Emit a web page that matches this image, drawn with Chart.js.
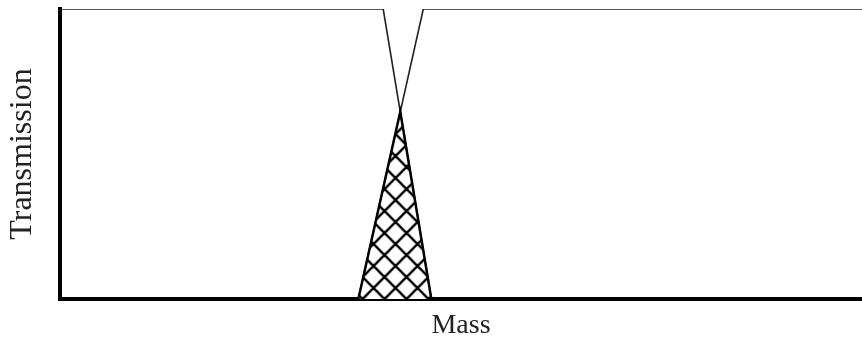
<!DOCTYPE html>
<html>
<head>
<meta charset="utf-8">
<script src="https://cdn.jsdelivr.net/npm/chart.js"></script>
<style>
  html, body { margin: 0; padding: 0; background: #fff; }
  #wrap { width: 862px; height: 341px; }
</style>
</head>
<body>
<div id="wrap"><canvas id="chartFilter"></canvas></div>
<script>
// Two overlapping transmission windows; overlap region is cross-hatched
const massFalling = [0, 40.3, 46.3];
const transFalling = [1, 1, 0];
const massRising = [37.2, 45.3, 100];
const transRising = [0, 1, 1];

// where the falling edge crosses the rising edge
function crossing() {
  const ax = massFalling[1], ay = transFalling[1], bx = massFalling[2], by = transFalling[2];
  const cx = massRising[0], cy = transRising[0], dx = massRising[1], dy = transRising[1];
  const s1 = (by - ay) / (bx - ax), s2 = (dy - cy) / (dx - cx);
  const x = (cy - ay + s1 * ax - s2 * cx) / (s1 - s2);
  return { x: x, y: ay + s1 * (x - ax) };
}

function toPoints(xs, ys) {
  return xs.map((x, i) => ({ x: x, y: ys[i] }));
}

function crossHatch(size) {
  const c = document.createElement('canvas');
  c.width = size; c.height = size;
  const g = c.getContext('2d');
  g.fillStyle = '#fff';
  g.fillRect(0, 0, size, size);
  g.strokeStyle = '#000';
  g.lineWidth = 2.4;
  g.beginPath();
  g.moveTo(0, 0); g.lineTo(size, size);
  g.moveTo(size, 0); g.lineTo(0, size);
  g.moveTo(-size / 2, size / 2); g.lineTo(size / 2, -size / 2);
  g.moveTo(size / 2, size * 1.5); g.lineTo(size * 1.5, size / 2);
  g.moveTo(-size / 2, size / 2); g.lineTo(size / 2, size * 1.5);
  g.moveTo(size / 2, -size / 2); g.lineTo(size * 1.5, size / 2);
  g.stroke();
  const p = g.createPattern(c, 'repeat');
  p.setTransform(new DOMMatrix().translate(-0.5, 2));
  return p;
}

const cross = crossing();
const overlap = [
  { x: massRising[0], y: 0 },
  cross,
  { x: massFalling[2], y: 0 }
];

const serif = '"Liberation Serif", "DejaVu Serif", serif';

new Chart(document.getElementById('chartFilter').getContext('2d'), {
  type: 'line',
  data: {
    datasets: [
      {
        data: overlap,
        borderColor: '#000',
        borderWidth: 2.5,
        backgroundColor: crossHatch(22),
        fill: 'origin',
        pointRadius: 0,
        tension: 0
      },
      {
        data: toPoints(massFalling, transFalling),
        borderColor: '#222',
        borderWidth: 1.6,
        fill: false,
        pointRadius: 0,
        tension: 0
      },
      {
        data: toPoints(massRising, transRising),
        borderColor: '#222',
        borderWidth: 1.6,
        fill: false,
        pointRadius: 0,
        tension: 0
      }
    ]
  },
  options: {
    responsive: true,
    maintainAspectRatio: false,
    animation: false,
    layout: { padding: { top: 9, right: 0, left: 0, bottom: 0 } },
    plugins: { legend: { display: false }, tooltip: { enabled: false } },
    scales: {
      x: {
        type: 'linear',
        min: 0,
        max: 100,
        grid: { display: false },
        ticks: { display: false },
        border: { display: true, color: '#000', width: 4 },
        title: {
          display: true, text: 'Mass', color: '#222',
          font: { family: serif, size: 28, lineHeight: 1 },
          padding: { top: 0, bottom: 1 }
        },
        afterFit: (scale) => { scale.height = 42; }
      },
      y: {
        min: 0,
        max: 1,
        grid: { display: false },
        ticks: { display: false },
        border: { display: true, color: '#000', width: 4 },
        title: {
          display: true, text: 'Transmission', color: '#222',
          font: { family: serif, size: 32, lineHeight: 1 },
          padding: { top: 7, bottom: 0 }
        },
        afterFit: (scale) => { scale.width = 60; }
      }
    }
  }
});
</script>
</body>
</html>
